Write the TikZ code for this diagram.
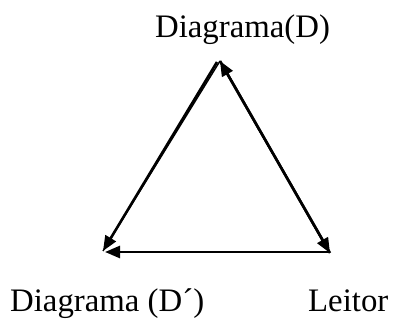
\documentclass[tikz,border=0pt]{standalone}
\usepackage{fontspec}
\setmainfont{Liberation Serif}
\usetikzlibrary{arrows.meta}
\tikzset{
  lbl/.style={inner sep=0pt, font=\fontsize{32.8}{36}\selectfont},
  arr/.style={line width=2.6pt, -{Triangle[length=15pt,width=12pt]}},
  plain/.style={line width=1.4pt}
}
\begin{document}
\begin{tikzpicture}[x=1pt,y=-1pt]
\useasboundingbox (0,0) rectangle (397,320);
\fill[white] (0,0) rectangle (397,320);
% vertices
\coordinate (T) at (220,61);
\coordinate (T2) at (217,62);
\coordinate (R) at (330,253);
\coordinate (L) at (103,251);
\coordinate (L2) at (105,252);
\coordinate (Rb) at (330,252);
% labels
\node[lbl, anchor=base] (d) at (242.5,38) {Diagrama(D)};
\node[lbl, anchor=base west] (dp) at (10,312) {Diagrama (D´)};
\node[lbl, anchor=base west] (le) at (308,312) {Leitor};
% connectors
\draw[arr] (T2) -- (L);
\draw[plain] (T) -- (L);
\draw[arr] (T) -- (R);
\draw[arr] (R) -- (T);
\draw[arr] (Rb) -- (L2);
\end{tikzpicture}
\end{document}
